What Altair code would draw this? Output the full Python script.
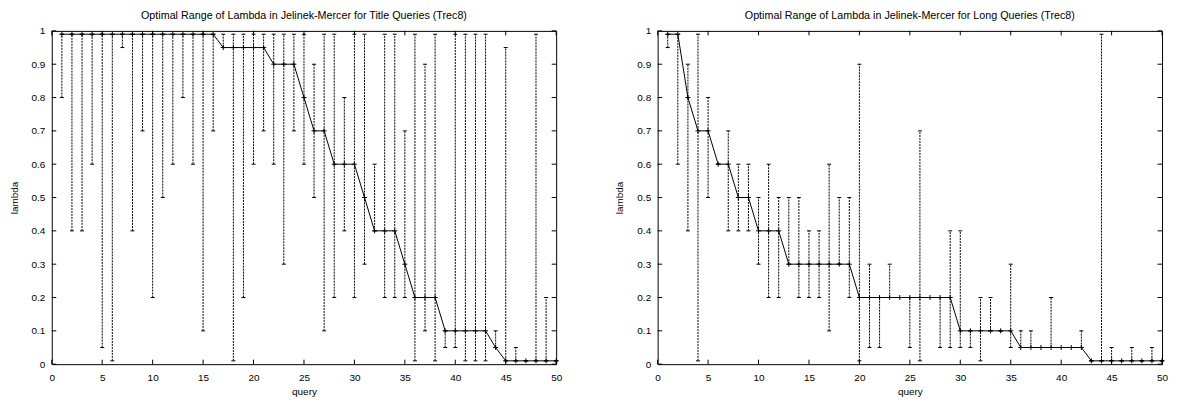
import altair as alt
import pandas as pd

FONT = "Liberation Sans"

queries = list(range(1, 51))
x_ticks = [0, 5, 10, 15, 20, 25, 30, 35, 40, 45, 50]
y_ticks = [0, 0.1, 0.2, 0.3, 0.4, 0.5, 0.6, 0.7, 0.8, 0.9, 1]

title_left = "Optimal Range of Lambda in Jelinek-Mercer for Title Queries (Trec8)"
title_right = "Optimal Range of Lambda in Jelinek-Mercer for Long Queries (Trec8)"

# ---- Title queries (left) ----
left_val = [0.99, 0.99, 0.99, 0.99, 0.99, 0.99, 0.99, 0.99, 0.99, 0.99,
            0.99, 0.99, 0.99, 0.99, 0.99, 0.99, 0.95, 0.95, 0.95, 0.95,
            0.95, 0.9, 0.9, 0.9, 0.8, 0.7, 0.7, 0.6, 0.6, 0.6,
            0.5, 0.4, 0.4, 0.4, 0.3, 0.2, 0.2, 0.2, 0.1, 0.1,
            0.1, 0.1, 0.1, 0.05, 0.01, 0.01, 0.01, 0.01, 0.01, 0.01]
left_lo = [0.8, 0.4, 0.4, 0.6, 0.05, 0.01, 0.95, 0.4, 0.7, 0.2,
           0.5, 0.6, 0.8, 0.6, 0.1, 0.7, 0.95, 0.01, 0.2, 0.6,
           0.7, 0.6, 0.3, 0.7, 0.6, 0.5, 0.1, 0.2, 0.4, 0.2,
           0.3, 0.4, 0.2, 0.2, 0.2, 0.01, 0.1, 0.01, 0.05, 0.05,
           0.01, 0.01, 0.01, 0.05, 0.01, 0.01, 0.01, 0.01, 0.01, 0.01]
left_hi = [0.99, 0.99, 0.99, 0.99, 0.99, 0.99, 0.99, 0.99, 0.99, 0.99,
           0.99, 0.99, 0.99, 0.99, 0.99, 0.99, 0.99, 0.99, 0.99, 0.99,
           0.99, 0.99, 0.99, 0.99, 0.99, 0.9, 0.99, 0.99, 0.8, 0.99,
           0.99, 0.6, 0.99, 0.99, 0.7, 0.99, 0.9, 0.99, 0.1, 0.99,
           0.99, 0.99, 0.99, 0.1, 0.95, 0.05, 0.01, 0.99, 0.2, 0.01]

# ---- Long queries (right) ----
right_val = [0.99, 0.99, 0.8, 0.7, 0.7, 0.6, 0.6, 0.5, 0.5, 0.4,
             0.4, 0.4, 0.3, 0.3, 0.3, 0.3, 0.3, 0.3, 0.3, 0.2,
             0.2, 0.2, 0.2, 0.2, 0.2, 0.2, 0.2, 0.2, 0.2, 0.1,
             0.1, 0.1, 0.1, 0.1, 0.1, 0.05, 0.05, 0.05, 0.05, 0.05,
             0.05, 0.05, 0.01, 0.01, 0.01, 0.01, 0.01, 0.01, 0.01, 0.01]
right_lo = [0.95, 0.6, 0.4, 0.01, 0.5, 0.6, 0.4, 0.4, 0.4, 0.3,
            0.2, 0.2, 0.3, 0.2, 0.2, 0.2, 0.1, 0.3, 0.2, 0.01,
            0.05, 0.05, 0.2, 0.2, 0.05, 0.01, 0.2, 0.05, 0.05, 0.05,
            0.05, 0.01, 0.1, 0.1, 0.05, 0.05, 0.05, 0.05, 0.05, 0.05,
            0.05, 0.05, 0.01, 0.01, 0.01, 0.01, 0.01, 0.01, 0.01, 0.01]
right_hi = [0.99, 0.99, 0.9, 0.99, 0.8, 0.6, 0.7, 0.6, 0.6, 0.5,
            0.6, 0.5, 0.5, 0.5, 0.4, 0.4, 0.6, 0.5, 0.5, 0.9,
            0.3, 0.2, 0.3, 0.2, 0.2, 0.7, 0.2, 0.2, 0.4, 0.4,
            0.1, 0.2, 0.2, 0.1, 0.3, 0.1, 0.1, 0.05, 0.2, 0.05,
            0.05, 0.1, 0.01, 0.99, 0.05, 0.01, 0.05, 0.01, 0.05, 0.01]

W, H = 507, 335
TICK = 4.5
PLUS = "M-1,0L1,0M0,-1L0,1"


def panel(title, val, lo, hi):
    df = pd.DataFrame({"query": queries, "lambda": val, "lo": lo, "hi": hi})
    xt = pd.DataFrame({"query": x_ticks})
    yt = pd.DataFrame({"lambda": y_ticks})

    xs = alt.Scale(domain=[0, 50], nice=False, zero=False)
    ys = alt.Scale(domain=[0, 1], nice=False, zero=False)
    xax = alt.Axis(values=x_ticks, ticks=False, tickSize=0, domain=False, grid=False,
                   labelFlush=False, labelPadding=8, titlePadding=4, format="~g")
    yax = alt.Axis(values=y_ticks, ticks=False, tickSize=0, domain=False, grid=False,
                   labelFlush=False, labelPadding=7, titlePadding=12, format="~g")

    def X(f="query"):
        return alt.X(f"{f}:Q", scale=xs, axis=xax, title="query")

    def Y(f):
        return alt.Y(f"{f}:Q", scale=ys, axis=yax, title="lambda")

    base = alt.Chart(df)
    bars = base.mark_rule(color="black", strokeWidth=1, strokeDash=[2, 1]).encode(
        x=X(), y=Y("lo"), y2="hi:Q")
    cap_lo = base.mark_tick(orient="horizontal", color="black", size=4, thickness=1,
                            opacity=1).encode(x=X(), y=Y("lo"))
    cap_hi = base.mark_tick(orient="horizontal", color="black", size=4, thickness=1,
                            opacity=1).encode(x=X(), y=Y("hi"))
    line = base.mark_line(color="black", strokeWidth=1).encode(x=X(), y=Y("lambda"))
    pts = base.mark_point(shape=PLUS, filled=False, color="black", size=25,
                          strokeWidth=1, opacity=1).encode(x=X(), y=Y("lambda"))

    tb = alt.Chart(xt).mark_rule(color="black").encode(
        x=X(), y=alt.value(H), y2=alt.value(H - TICK))
    tt = alt.Chart(xt).mark_rule(color="black").encode(
        x=X(), y=alt.value(0), y2=alt.value(TICK))
    tl = alt.Chart(yt).mark_rule(color="black").encode(
        y=Y("lambda"), x=alt.value(0), x2=alt.value(TICK))
    tr = alt.Chart(yt).mark_rule(color="black").encode(
        y=Y("lambda"), x=alt.value(W), x2=alt.value(W - TICK))

    return alt.layer(bars, cap_lo, cap_hi, line, pts, tb, tt, tl, tr).properties(
        width=W, height=H,
        title=alt.TitleParams(title, font=FONT, fontSize=10.8, fontWeight="normal",
                              color="black", anchor="middle", offset=5),
    )


left = panel(title_left, left_val, left_lo, left_hi)
right = panel(title_right, right_val, right_lo, right_hi)

chart = alt.hconcat(left, right, spacing=102, bounds="flush").properties(
    padding={"left": 0, "top": 0, "right": 0, "bottom": 0}
).configure(font=FONT).configure_view(stroke="black", strokeWidth=1).configure_axis(
    labelFont=FONT, labelFontSize=10, labelColor="black",
    titleFont=FONT, titleFontSize=10, titleFontWeight="normal", titleColor="black",
)

chart.save("out.html", embed_options={"renderer": "svg", "actions": False})
